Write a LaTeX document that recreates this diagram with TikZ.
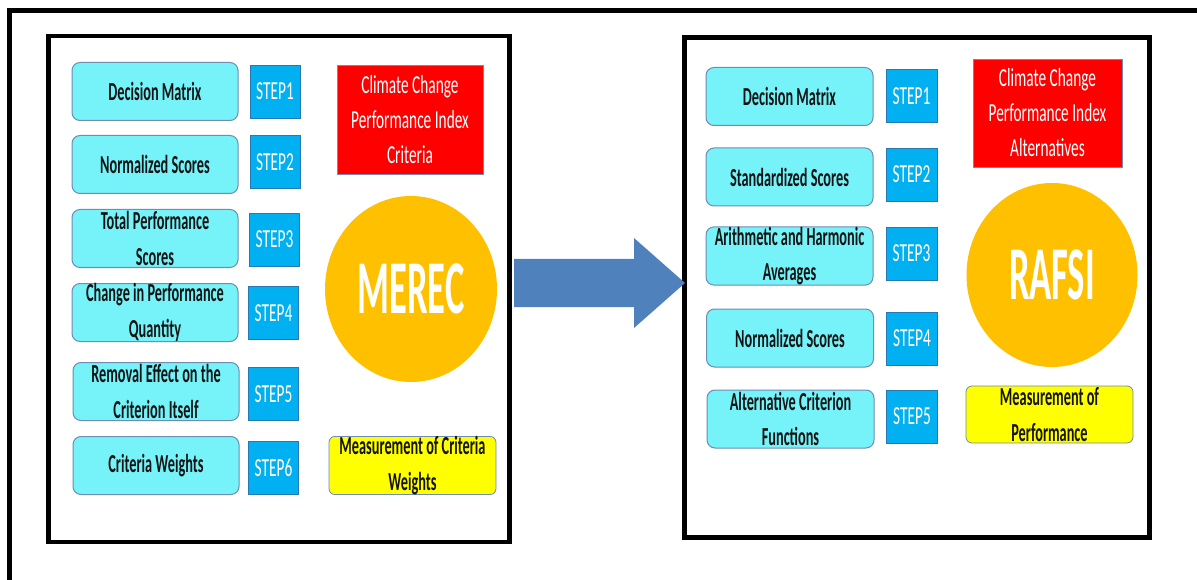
\documentclass[tikz,border=0pt]{standalone}
\usepackage{fontspec}
\newfontfamily\cf[FakeStretch=0.59]{Carlito}
\newfontfamily\cfb[FakeStretch=0.55]{Carlito}
\newfontfamily\cfbig[FakeStretch=0.48]{Carlito}
\usetikzlibrary{shapes.geometric}
\definecolor{cyanfill}{RGB}{117,243,249}
\definecolor{cyanline}{RGB}{110,140,180}
\definecolor{stepfill}{RGB}{0,176,240}
\definecolor{stepline}{RGB}{40,120,180}
\definecolor{redfill}{RGB}{255,0,0}
\definecolor{yelfill}{RGB}{255,255,0}
\definecolor{orangefill}{RGB}{255,192,0}
\definecolor{arrowblue}{RGB}{79,129,189}
\definecolor{txt}{RGB}{20,20,20}
\tikzset{
  basefont/.style={font=\cf\fontsize{26}{35}\selectfont},
  darkfont/.style={font=\cfb\bfseries\fontsize{26}{35.5}\selectfont},
  cbox/.style={darkfont, draw=cyanline, line width=1pt, fill=cyanfill, rounded corners=8pt,
    minimum width=166pt, minimum height=58pt, inner sep=0pt, align=center, text=txt},
  stepbox/.style={basefont, draw=stepline, line width=0.8pt, fill=stepfill,
    minimum width=50pt, minimum height=53pt, inner sep=0pt, text=white},
  redbox/.style={basefont, draw=cyanline, line width=0.8pt, fill=redfill, inner sep=0pt,
    align=center, text=white},
  yelbox/.style={darkfont, draw=cyanline, line width=0.8pt, fill=yelfill, rounded corners=6pt,
    minimum width=167pt, minimum height=57pt, inner sep=0pt, align=center, text=txt},
  method/.style={ellipse, fill=orangefill, inner sep=0pt, text=white,
    font=\cfbig\bfseries\fontsize{76}{80}\selectfont},
  frame/.style={draw=black, line width=4.5pt, inner sep=0pt, fill=none},
}
\begin{document}
\begin{tikzpicture}[x=1pt,y=-1pt]
\useasboundingbox (0,0) rectangle (1197,580);
\fill[white] (0,0) rectangle (1197,580);
% outer frame (top and left visible)
\coordinate (o1) at (9,580);
\coordinate (o2) at (9,10.5);
\coordinate (o3) at (1197,10.5);
\draw[line width=5pt, line cap=rect] (o1) -- (o2) -- (o3);

% panel frames
\node[frame, minimum width=461pt, minimum height=506pt] (lf) at (279,289) {};
\node[frame, minimum width=465pt, minimum height=500pt] (rf) at (917,287.5) {};

% left panel
\node[cbox] (l1) at (155,91.5) {Decision Matrix};
\node[cbox] (l2) at (155,164.5) {Normalized Scores};
\node[cbox] (l3) at (155,238.5) {Total Performance\\Scores};
\node[cbox] (l4) at (155,312.5) {Change in Performance\\Quantity};
\node[cbox] (l5) at (156,391.5) {Removal Effect on the\\Criterion Itself};
\node[cbox] (l6) at (156,465.5) {Criteria Weights};
\node[stepbox] (ls1) at (275,91.5) {STEP1};
\node[stepbox] (ls2) at (275,162) {STEP2};
\node[stepbox] (ls3) at (274.5,239.5) {STEP3};
\node[stepbox] (ls4) at (273.5,313) {STEP4};
\node[stepbox] (ls5) at (273.5,394) {STEP5};
\node[stepbox] (ls6) at (273.5,468) {STEP6};
\node[redbox, minimum width=146pt, minimum height=109pt] (lr) at (410,119.5) {Climate Change\\Performance Index\\Criteria};
\node[method, minimum width=172pt, minimum height=186pt] (merec) at (411,289) {MEREC};
\node[yelbox] (ly) at (412.5,465.5) {Measurement of Criteria\\Weights};

% right panel
\node[cbox, minimum width=167pt] (r1) at (789.5,96.5) {Decision Matrix};
\node[cbox, minimum width=167pt] (r2) at (789.5,177) {Standardized Scores};
\node[cbox, minimum width=167pt] (r3) at (789.5,256) {Arithmetic and Harmonic\\Averages};
\node[cbox, minimum width=167pt] (r4) at (790,338) {Normalized Scores};
\node[cbox, minimum width=167pt] (r5) at (790.5,419) {Alternative Criterion\\Functions};
\node[stepbox, minimum width=51pt] (rs1) at (911.5,96) {STEP1};
\node[stepbox, minimum width=51pt] (rs2) at (911.5,174.5) {STEP2};
\node[stepbox, minimum width=51pt] (rs3) at (911.5,253.5) {STEP3};
\node[stepbox, minimum width=51pt] (rs4) at (912,338.5) {STEP4};
\node[stepbox, minimum width=51pt] (rs5) at (912,416.5) {STEP5};
\node[redbox, minimum width=149pt, minimum height=108pt] (rr) at (1047.5,113) {Climate Change\\Performance Index\\Alternatives};
\node[method, minimum width=171pt, minimum height=184pt] (rafsi) at (1052,275) {RAFSI};
\node[yelbox] (ry) at (1049.5,414.5) {Measurement of\\Performance};

% block arrow between panels
\coordinate (a1) at (514,259);
\coordinate (a2) at (634,259);
\coordinate (a3) at (634,238);
\coordinate (tip) at (685,283);
\coordinate (a5) at (634,328);
\coordinate (a6) at (634,307);
\coordinate (a7) at (514,307);
\fill[arrowblue] (a1) -- (a2) -- (a3) -- (tip) -- (a5) -- (a6) -- (a7) -- cycle;
\end{tikzpicture}
\end{document}
